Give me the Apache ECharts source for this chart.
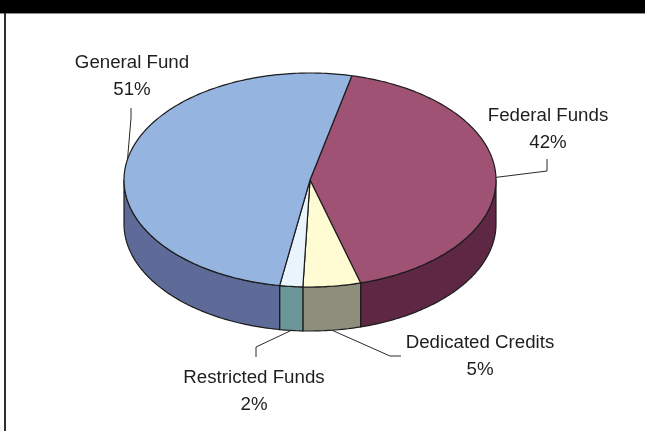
<!DOCTYPE html>
<html>
<head>
<meta charset="utf-8">
<script src="https://cdn.jsdelivr.net/npm/echarts@6/dist/echarts.min.js"></script>
<style>
  html, body { margin: 0; padding: 0; background: #ffffff; }
  #chart { width: 645px; height: 431px; }
</style>
</head>
<body>
<div id="chart"></div>
<script>
// Funding sources, listed clockwise from the top of the pie
const categories = ['Federal Funds', 'Dedicated Credits', 'Restricted Funds', 'General Fund'];
const shares = [42, 5, 2, 51];

// Face and rim colours per slice
const topColors  = ['#A05274', '#FFFBD2', '#EAF4FC', '#95B4DF'];
const sideColors = ['#5E2744', '#8E8E7D', '#6D969A', '#5E6A98'];

// Tilted-disc geometry (pixels)
const disc = { cx: 310, cy: 180, rx: 186, ry: 107, depth: 44, startAngle: 77 };

// Label text centres and leader-line bends
const labelLayout = [
  { x: 548, y: 129, path: [[547, 171], [547, 159]] },
  { x: 480, y: 356, path: [[390, 356], [401, 356]] },
  { x: 254, y: 391, path: [[256, 347], [256, 357]] },
  { x: 132, y: 76,  path: [[131, 118], [131, 108]] }
];

const total = shares.reduce((a, b) => a + b, 0);
const spans = [];
let cursor = disc.startAngle;
shares.forEach(v => {
  const sweep = v / total * 360;
  spans.push({ hi: cursor, lo: cursor - sweep });
  cursor -= sweep;
});

const rad = d => d * Math.PI / 180;
function rimPoint(deg, drop) {
  return [disc.cx + disc.rx * Math.cos(rad(deg)), disc.cy - disc.ry * Math.sin(rad(deg)) + (drop || 0)];
}
function arc(from, to, drop) {
  const pts = [];
  const n = Math.max(2, Math.ceil(Math.abs(from - to)));
  for (let i = 0; i <= n; i++) pts.push(rimPoint(from + (to - from) * i / n, drop));
  return pts;
}

const outline = { stroke: '#1c1c1c', lineWidth: 1.2, lineJoin: 'round' };

function renderSlice(params, api) {
  const i = params.dataIndex;
  const value = api.value(0);
  const s = spans[i];
  const children = [];

  // visible rim: the part of the slice on the near half of the disc
  for (let k = -1; k <= 1; k++) {
    const a = Math.max(s.lo, -180 + 360 * k);
    const b = Math.min(s.hi, 360 * k);
    if (b - a > 0.01) {
      const pts = arc(b, a, 0).concat(arc(a, b, disc.depth));
      children.push({
        type: 'polygon', z2: 1,
        shape: { points: pts },
        style: Object.assign({ fill: sideColors[i] }, outline)
      });
    }
  }

  // top face
  children.push({
    type: 'polygon', z2: 2,
    shape: { points: [[disc.cx, disc.cy]].concat(arc(s.hi, s.lo, 0)) },
    style: Object.assign({ fill: topColors[i] }, outline)
  });

  // leader line from the slice edge to its label
  const mid = (s.hi + s.lo) / 2;
  const anchor = rimPoint(mid, Math.sin(rad(mid)) < 0 ? disc.depth : 0);
  const lay = labelLayout[i];
  children.push({
    type: 'polyline', z2: 3,
    shape: { points: [anchor].concat(lay.path) },
    style: { stroke: '#2a2a2a', lineWidth: 1, fill: null }
  });

  children.push({
    type: 'text', z2: 4,
    x: lay.x, y: lay.y,
    style: {
      text: categories[i] + '\n' + value + '%',
      fill: '#1e1e1e',
      font: '18.7px "Liberation Sans", Arial, sans-serif',
      lineHeight: 27,
      align: 'center',
      verticalAlign: 'middle'
    }
  });

  return { type: 'group', children: children };
}

const chart = echarts.init(document.getElementById('chart'), null, { renderer: 'canvas' });
chart.setOption({
  animation: false,
  backgroundColor: '#ffffff',
  graphic: [
    { type: 'rect', shape: { x: 0, y: 0, width: 645, height: 13 }, style: { fill: '#000000' }, z: 10 },
    { type: 'line', shape: { x1: 0, y1: 13.5, x2: 645, y2: 13.5 }, style: { stroke: '#8a8a8a', lineWidth: 1 }, z: 10 },
    { type: 'line', shape: { x1: 5, y1: 13, x2: 5, y2: 431 }, style: { stroke: '#2e2e2e', lineWidth: 2 }, z: 10 }
  ],
  series: [{
    type: 'custom',
    coordinateSystem: 'none',
    data: shares.map((v, i) => ({ name: categories[i], value: [v] })),
    renderItem: renderSlice
  }]
});
</script>
</body>
</html>
